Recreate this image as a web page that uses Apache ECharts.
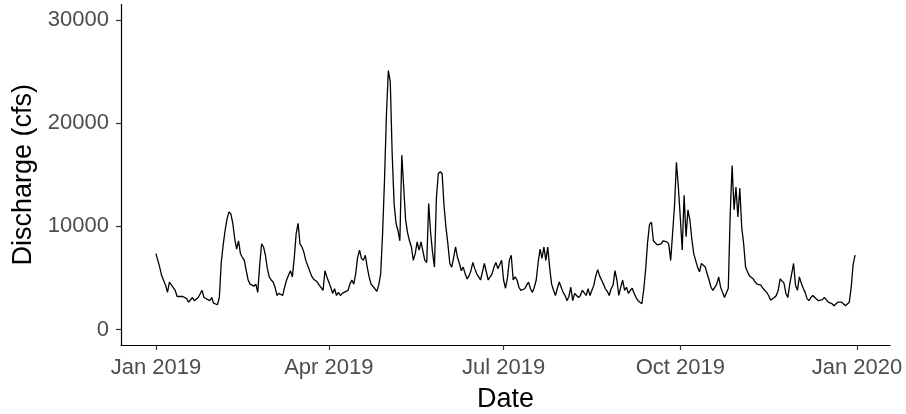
<!DOCTYPE html>
<html>
<head>
<meta charset="utf-8">
<script src="https://cdn.jsdelivr.net/npm/echarts@6/dist/echarts.min.js"></script>
<style>
html,body{margin:0;padding:0;background:#fff;}
#chart{width:906px;height:414px;}
</style>
</head>
<body>
<div id="chart"></div>
<script>
// Daily discharge, 2019 (day offset from 2019-01-01, value in cfs)
const daysSinceJan1 = [
0,1,2,3,5,6,7,8,10,11,12,14,16,17,19,20,21,22,24,25,26,28,29,30,32,33,34,35,36,37,38,39,40,41,42,43,44,45,46,47,48,49,50,51,52,53,54,55,56,57,58,59,60,61,62,63,64,66,67,68,70,71,72,73,74,75,76,77,78,79,80,81,82,84,85,86,87,88,89,91,92,93,94,95,96,97,98,100,101,102,103,104,105,106,107,108,109,110,111,112,113,114,115,116,117,118,119,120,121,122,123,124,125,126,127,128,129,130,131,132,133,134,135,136,137,138,139,140,141,142,143,144,145,146,147,148,149,150,151,152,153,154,155,156,157,158,159,160,161,162,163,164,165,166,167,168,169,170,171,172,173,174,175,176,177,178,179,180,181,182,183,184,185,186,187,188,189,190,191,192,193,194,195,196,197,198,199,200,201,202,203,204,205,206,207,208,209,210,211,212,213,214,215,216,217,218,219,220,221,222,223,224,225,226,227,228,229,230,231,232,233,234,235,236,237,238,239,240,241,242,243,244,245,246,247,248,249,250,251,252,253,254,255,256,257,258,259,260,261,262,263,264,265,266,267,268,269,270,271,272,273,274,275,276,277,278,279,280,281,282,283,284,285,286,287,288,289,290,291,292,293,294,295,296,297,298,299,300,301,302,303,304,305,306,307,308,309,310,311,312,313,314,315,316,317,318,319,320,321,322,323,324,325,326,327,328,329,330,331,332,333,334,335,336,337,338,339,340,341,342,343,344,345,346,347,348,349,350,351,352,353,354,355,356,357,358,359,360,361,362,363,364
];
const discharge = [
7350,7200,6000,5200,4300,3600,4600,4500,3800,3200,3300,3200,3000,2650,3100,2800,2650,3100,3800,3100,3200,2800,3100,2550,2400,3100,6500,8200,9600,10700,11400,11200,10300,8800,7800,8600,7350,7000,6700,5700,4800,4400,4300,4200,4400,3600,6200,8300,8000,7200,5900,5100,4800,4600,4100,3300,3500,3300,4100,4800,5700,5100,6900,9300,10300,8300,8000,7500,6700,6200,5700,5200,4900,4600,4300,4050,3800,5700,5100,4100,3500,3950,3300,3600,3300,3500,3500,3800,4400,4800,4400,5400,7000,7700,6900,6700,7200,6050,5100,4400,4300,3950,3700,4300,5400,9300,14500,20800,25100,24000,17000,12200,10300,9600,8600,16900,13800,10600,9400,8600,8000,6700,7350,8500,7700,8500,8600,6700,6500,12200,9400,7500,6050,12700,15100,15300,15100,12000,9900,8300,6400,6050,7000,8000,7000,6400,5700,6050,5400,4900,5200,5700,6500,5900,5400,5100,4800,4900,6400,5600,4800,5100,5400,6050,6500,5900,6300,6700,4800,4000,5000,6700,7200,4800,5100,4800,4100,3800,3950,3950,4300,4600,3950,3600,4100,4800,6500,7800,6900,8000,6700,8000,6000,4400,3800,3300,4000,4600,4100,3600,3300,2800,3200,4100,2800,3500,3300,3100,3300,3800,3800,3300,3950,3300,3800,4300,5200,5800,5200,4800,4400,3950,3700,3300,3950,4300,5700,4800,3300,4100,4800,3800,4100,3500,3800,4000,3500,3100,2800,2650,2500,3900,5900,8500,10200,10400,8600,8600,8200,8100,8300,8600,8500,8500,8300,6700,9300,12000,16200,13800,10900,7700,13000,9000,11600,10600,8800,7350,6700,6050,5600,6400,6500,6050,5400,4800,4100,3800,3950,4400,5100,4100,3600,3100,3000,4000,11200,15900,11600,13800,10900,13700,9900,8300,6050,5600,5200,5100,4900,4600,4400,4400,4300,4000,3900,3600,3300,2850,3000,3100,3300,3800,4900,4900,4500,3500,3100,4400,5400,6400,4300,3800,5100,4500,4000,3600,3000,2800,3100,3300,3100,3000,2800,2650,2900,3100,2900,2650,2800,2500,2300,2300,2650,2650,2650,2600,2300,2150,2650,4100,6300,7200
];
const startDate = '2019-01-01';
const tickDates = ['2019-01-01','2019-04-01','2019-07-01','2019-10-01','2020-01-01'];
const tickLabels = ['Jan 2019','Apr 2019','Jul 2019','Oct 2019','Jan 2020'];
const yTicks = [0, 10000, 20000, 30000];
const yLimits = [0, 30000];

if (daysSinceJan1.length !== discharge.length) {
  throw new Error('length mismatch ' + daysSinceJan1.length + ' vs ' + discharge.length);
}

const DAY = 86400000;
function ts(s){ const p = s.split('-').map(Number); return Date.UTC(p[0], p[1]-1, p[2]); }
const t0 = ts(startDate);
const seriesData = daysSinceJan1.map((d, i) => [t0 + d * DAY, discharge[i]]);
const xs = seriesData.map(p => p[0]);
const xMinD = Math.min(...xs), xMaxD = Math.max(...xs);
const xPad = (xMaxD - xMinD) * 0.05;
const yPad = (yLimits[1] - yLimits[0]) * 0.05;
const tickTs = tickDates.map(ts);

const chart = echarts.init(document.getElementById('chart'), null, {renderer: 'canvas'});
const font = "'Liberation Sans', Arial, sans-serif";
chart.setOption({
  animation: false,
  backgroundColor: '#ffffff',
  grid: { left: 121, right: 16, top: 4.5, bottom: 69, outerBoundsMode: 'none' },
  xAxis: {
    type: 'value',
    scale: true,
    min: xMinD - xPad,
    max: xMaxD + xPad,
    name: 'Date',
    nameLocation: 'middle',
    nameGap: 41,
    nameTextStyle: { fontSize: 27, color: '#000', fontFamily: font },
    axisLine: { show: true, onZero: false, lineStyle: { color: '#000', width: 1.2 } },
    axisTick: { show: true, length: 5, customValues: tickTs, lineStyle: { color: '#333', width: 1.2 } },
    axisLabel: {
      customValues: tickTs,
      margin: 12,
      fontSize: 22,
      color: '#4D4D4D',
      fontFamily: font,
      hideOverlap: false,
      formatter: function (v) {
        const i = tickTs.indexOf(v);
        return i >= 0 ? tickLabels[i] : '';
      }
    },
    splitLine: { show: false }
  },
  yAxis: {
    type: 'value',
    min: yLimits[0] - yPad,
    max: yLimits[1] + yPad,
    name: 'Discharge (cfs)',
    nameLocation: 'middle',
    nameRotate: 90,
    nameGap: 80,
    nameTextStyle: { fontSize: 27, color: '#000', fontFamily: font },
    axisLine: { show: true, onZero: false, lineStyle: { color: '#000', width: 1.2 } },
    axisTick: { show: true, length: 5, customValues: yTicks, lineStyle: { color: '#333', width: 1.2 } },
    axisLabel: {
      customValues: yTicks,
      margin: 12,
      fontSize: 22,
      color: '#4D4D4D',
      fontFamily: font,
      formatter: function (v) { return String(v); }
    },
    splitLine: { show: false }
  },
  series: [{
    type: 'line',
    data: seriesData,
    showSymbol: false,
    symbol: 'none',
    lineStyle: { color: '#000', width: 1.3 },
    emphasis: { disabled: true }
  }]
});
</script>
</body>
</html>
